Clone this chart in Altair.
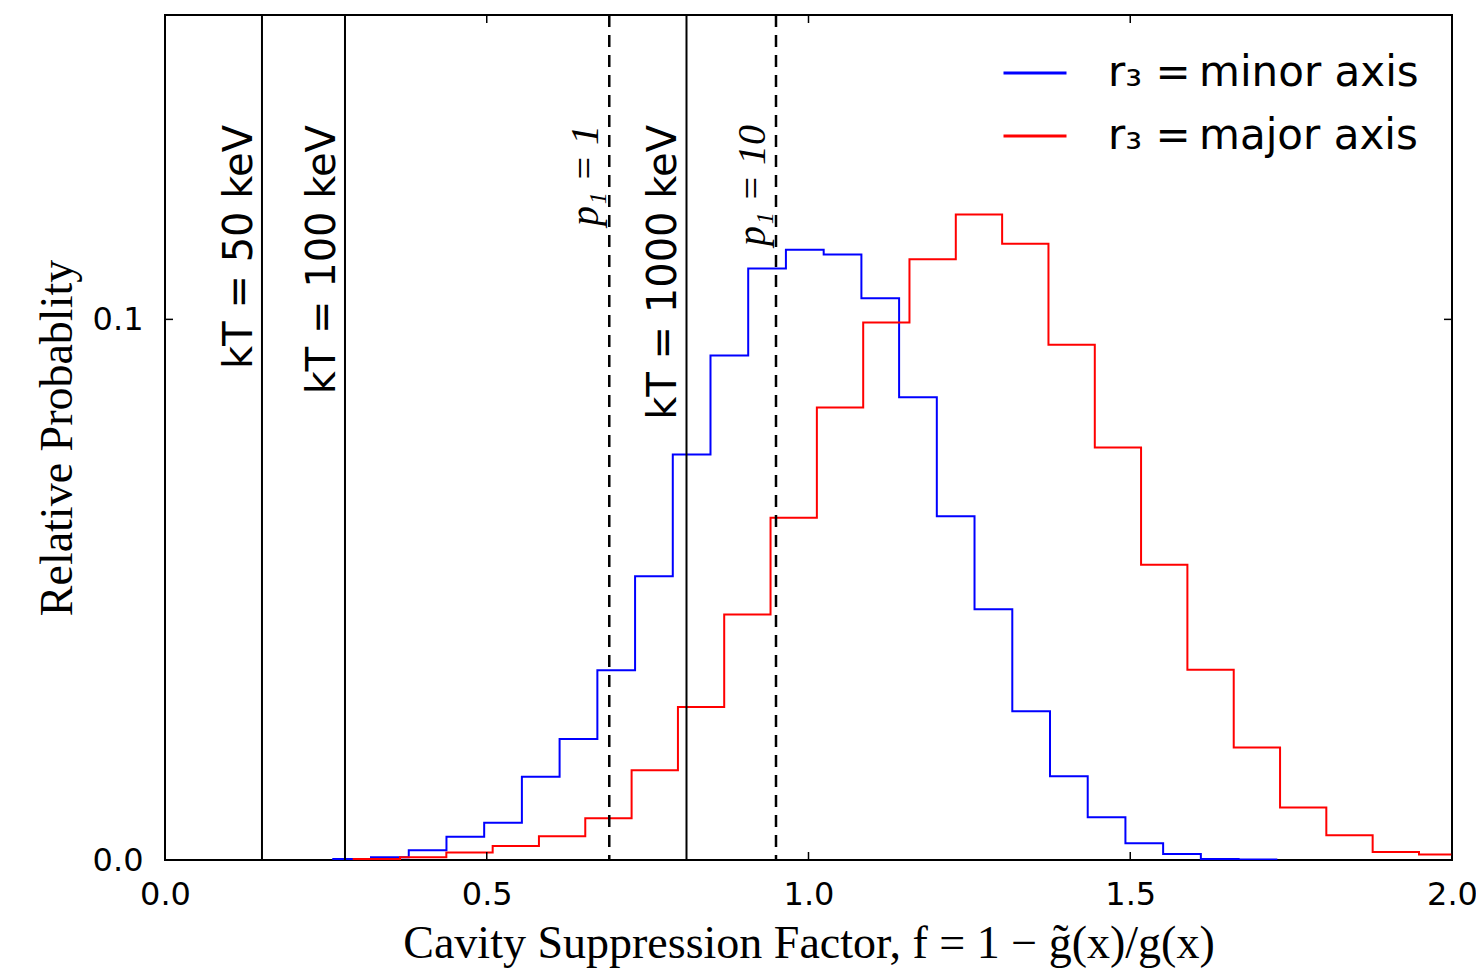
import altair as alt
import pandas as pd

# ---- data ----
blue_edges = [0.2615, 0.3201, 0.3788, 0.4374, 0.4960, 0.5546, 0.6132, 0.6719, 0.7305,
              0.7891, 0.8477, 0.9063, 0.9649, 1.0236, 1.0822, 1.1408, 1.1994, 1.2580,
              1.3167, 1.3753, 1.4339, 1.4925, 1.5511, 1.6097, 1.6684, 1.7270]
blue_heights = [0.0002, 0.0005, 0.0018, 0.0043, 0.0069, 0.0154, 0.0224, 0.0351, 0.0525,
                0.0750, 0.0933, 0.1094, 0.1129, 0.1120, 0.1039, 0.0856, 0.0636, 0.0464,
                0.0275, 0.0155, 0.0079, 0.0031, 0.0011, 0.0002, 0.0001]

red_edges = [0.2932, 0.3652, 0.4372, 0.5092, 0.5811, 0.6531, 0.7251, 0.7971, 0.8690,
             0.9410, 1.0130, 1.0850, 1.1569, 1.2289, 1.3009, 1.3729, 1.4449, 1.5168,
             1.5888, 1.6608, 1.7328, 1.8047, 1.8767, 1.9487, 2.0207]
red_heights = [0.0002, 0.0005, 0.0014, 0.0026, 0.0044, 0.0077, 0.0166, 0.0283, 0.0454,
               0.0633, 0.0837, 0.0994, 0.1111, 0.1194, 0.1140, 0.0953, 0.0763, 0.0546,
               0.0352, 0.0208, 0.0097, 0.0046, 0.0015, 0.0010]

series_names = ["r\u2083 =\u2009minor axis", "r\u2083 =\u2009major axis"]
series_colors = ["#0000ff", "#ff0000"]

kT_x = [0.1507, 0.2797, 0.8104]
kT_labels = ["kT = 50 keV", "kT = 100 keV", "kT = 1000 keV"]
p1_x = [0.6904, 0.9495]
p1_labels = ["p\u2081 = 1", "p\u2081 = 10"]

x_ticks = [0.0, 0.5, 1.0, 1.5, 2.0]
y_ticks = [0.0, 0.1]
x_domain = [0.0, 2.0]
y_domain = [0.0, 0.1563]

x_title = "Cavity Suppression Factor,  f = 1 \u2212 g\u0303(x)/g(x)"
y_title = "Relative Probablity"

# ---- build tables ----
def step_rows(name, edges, heights):
    pts = [(edges[0], 0.0)]
    for e, h in zip(edges[:-1], heights):
        pts.append((e, h))
    pts.append((edges[-1], 0.0))
    return [{"series": name, "x": x, "y": y, "order": i} for i, (x, y) in enumerate(pts)]

hist_df = pd.DataFrame(step_rows(series_names[0], blue_edges, blue_heights)
                       + step_rows(series_names[1], red_edges, red_heights))
kt_df = pd.DataFrame({"x": kT_x, "label": kT_labels})
p1_df = pd.DataFrame({"x": p1_x, "label": p1_labels})
xt_df = pd.DataFrame({"v": x_ticks})
yt_df = pd.DataFrame({"v": y_ticks})

W, H = 1287, 845
TICK = 8
xs = alt.Scale(domain=x_domain, nice=False, zero=False)
ys = alt.Scale(domain=y_domain, nice=False, zero=False)

x_axis = alt.Axis(values=x_ticks, format=".1f", tickSize=0, domain=False, grid=False,
                  labelFont="DejaVu Sans", labelFontSize=32, labelColor="black",
                  labelPadding=19, labelFlush=False,
                  title=x_title, titleFont="Liberation Serif", titleFontSize=46,
                  titleFontWeight="normal", titleColor="black",
                  titleY=97, titleBaseline="alphabetic")
y_axis = alt.Axis(values=y_ticks, format=".1f", tickSize=0, domain=False, grid=False,
                  labelFont="DejaVu Sans", labelFontSize=32, labelColor="black",
                  labelPadding=22, labelFlush=False,
                  title=y_title, titleFont="Liberation Serif", titleFontSize=46,
                  titleFontWeight="normal", titleColor="black",
                  titleAngle=270, titleX=-94, titleY=H / 2, titleAlign="center",
                  titleBaseline="alphabetic")

hist = alt.Chart(hist_df).mark_line(interpolate="step-after", strokeWidth=2, clip=True).encode(
    x=alt.X("x:Q", scale=xs, axis=x_axis),
    y=alt.Y("y:Q", scale=ys, axis=y_axis),
    color=alt.Color("series:N",
                    scale=alt.Scale(domain=series_names, range=series_colors),
                    sort=series_names,
                    legend=alt.Legend(title=None, orient="none", legendX=837, legendY=25,
                                      symbolType="stroke", symbolSize=3969,
                                      symbolStrokeWidth=3, labelFont="DejaVu Sans",
                                      labelFontSize=42, labelColor="black",
                                      labelOffset=40, rowPadding=9, padding=0,
                                      labelLimit=800)),
    order=alt.Order("order:Q"),
)

kt_rules = alt.Chart(kt_df).mark_rule(color="black", strokeWidth=2).encode(
    x=alt.X("x:Q", scale=xs))
p1_rules = alt.Chart(p1_df).mark_rule(color="black", strokeWidth=2.5, strokeDash=[12, 8]).encode(
    x=alt.X("x:Q", scale=xs))

kt_text = alt.Chart(kt_df).mark_text(angle=270, align="right", baseline="alphabetic", dy=-10,
                                     font="DejaVu Sans", fontSize=40, color="black").encode(
    x=alt.X("x:Q", scale=xs), y=alt.value(110), text="label:N")
p1_text = alt.Chart(p1_df).mark_text(angle=270, align="right", baseline="alphabetic", dy=-11,
                                     font="Liberation Serif", fontSize=40, fontStyle="italic",
                                     color="black").encode(
    x=alt.X("x:Q", scale=xs), y=alt.value(110), text="label:N")

tick_bottom = alt.Chart(xt_df).mark_rule(color="black", strokeWidth=1.5).encode(
    x=alt.X("v:Q", scale=xs), y=alt.value(H), y2=alt.value(H - TICK))
tick_top = alt.Chart(xt_df).mark_rule(color="black", strokeWidth=1.5).encode(
    x=alt.X("v:Q", scale=xs), y=alt.value(0), y2=alt.value(TICK))
tick_left = alt.Chart(yt_df).mark_rule(color="black", strokeWidth=1.5).encode(
    y=alt.Y("v:Q", scale=ys), x=alt.value(0), x2=alt.value(TICK))
tick_right = alt.Chart(yt_df).mark_rule(color="black", strokeWidth=1.5).encode(
    y=alt.Y("v:Q", scale=ys), x=alt.value(W - TICK), x2=alt.value(W))

chart = alt.layer(hist, kt_rules, p1_rules, kt_text, p1_text,
                  tick_bottom, tick_top, tick_left, tick_right).properties(
    width=W, height=H,
    padding={"left": 165, "top": 15, "right": 24, "bottom": 111},
    autosize=alt.AutoSizeParams(type="none"),
    background="white",
).configure_view(stroke="black", strokeWidth=2)

chart.save("out.html", embed_options={"renderer": "svg", "actions": False})
